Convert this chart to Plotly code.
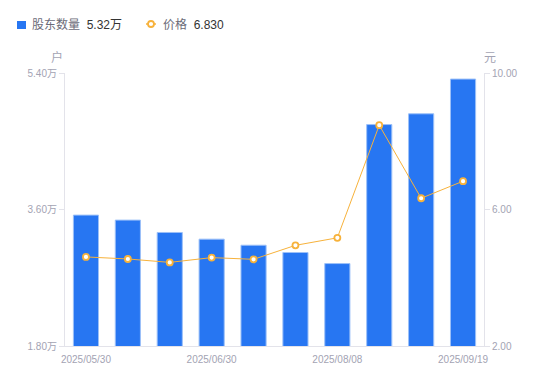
import plotly.graph_objects as go

dates = ["2025/05/30", "2025/06/10", "2025/06/20", "2025/06/30", "2025/07/10",
         "2025/07/20", "2025/08/08", "2025/08/20", "2025/08/31", "2025/09/19"]
holders = [3.526, 3.46, 3.297, 3.209, 3.129, 3.033, 2.887, 4.72, 4.862, 5.32]
price = [4.61, 4.55, 4.45, 4.59, 4.54, 4.95, 5.17, 8.47, 6.33, 6.83]
xtick_idx = [0, 3, 6, 9]
left_ticks = [1.8, 3.6, 5.4]
right_ticks = [2, 6, 10]
legend_names = ["股东数量", "价格"]
legend_values = ["5.32万", "6.830"]

BLUE = "#2776f2"
ORANGE = "#f7b23b"
GRAY = "#a3a3b3"
AXIS = "#e3e3ea"
FONT = "Liberation Sans, Arial, Noto Sans CJK SC, sans-serif"

# page has an 8px body margin; figure sized so the chart fills 550x381
W, H = 542, 373
ML, MR, MT, MB = 57, 66, 65, 35
PW, PH = W - ML - MR, H - MT - MB
OFF = 8


def px(xp):
    return (xp - OFF - ML) / PW


def py(yp):
    return (H - MB + OFF - yp) / PH


fig = go.Figure()
fig.add_trace(go.Bar(
    x=dates, y=holders, yaxis="y", name=legend_names[0],
    marker=dict(color=BLUE, line=dict(color="#9cc0f8", width=1)),
))
fig.add_trace(go.Scatter(
    x=dates, y=price, yaxis="y2", mode="lines+markers", name=legend_names[1],
    line=dict(color=ORANGE, width=1),
    marker=dict(size=6, color="white", line=dict(color=ORANGE, width=1.8)),
))

# custom legend (name + latest value)
shapes = [
    dict(type="rect", xref="paper", yref="paper", x0=px(17), x1=px(26),
         y0=py(29), y1=py(21), fillcolor=BLUE, line=dict(width=0)),
    dict(type="line", xref="paper", yref="paper", x0=px(146), x1=px(156),
         y0=py(24), y1=py(24), line=dict(color=ORANGE, width=1.5)),
    dict(type="circle", xref="paper", yref="paper", x0=px(148), x1=px(154),
         y0=py(27), y1=py(21), fillcolor="white",
         line=dict(color=ORANGE, width=1.8)),
]
annotations = []
for name, val, xpos in zip(legend_names, legend_values, [31, 162]):
    annotations.append(dict(
        text=f"<span style='color:#6b6b78'>{name}</span>  <span style='color:#333'>{val}</span>",
        xref="paper", yref="paper", x=px(xpos), y=py(25), xanchor="left",
        yanchor="middle", showarrow=False, borderpad=0,
        font=dict(size=12, color="#333")))
annotations += [
    dict(text="户", xref="paper", yref="paper", x=0, y=1, xanchor="right",
         yanchor="bottom", xshift=0, yshift=6, showarrow=False,
         font=dict(size=12, color=GRAY)),
    dict(text="元", xref="paper", yref="paper", x=1, y=1, xanchor="left",
         yanchor="bottom", xshift=-2, yshift=6, showarrow=False,
         font=dict(size=12, color=GRAY)),
]

fig.update_layout(
    width=W, height=H,
    margin=dict(l=ML, r=MR, t=MT, b=MB, autoexpand=False),
    paper_bgcolor="white", plot_bgcolor="white",
    font=dict(family=FONT, size=10, color=GRAY),
    bargap=0.4,
    showlegend=False,
    shapes=shapes,
    annotations=annotations,
    xaxis=dict(
        type="category", tickvals=[dates[i] for i in xtick_idx],
        ticktext=[dates[i] for i in xtick_idx], automargin=False,
        range=[-0.5, len(dates) - 0.5],
        showline=True, linecolor=AXIS, linewidth=1, ticks="outside",
        ticklen=4, tickcolor="rgba(0,0,0,0)",
        showgrid=False, zeroline=False, tickfont=dict(size=10, color=GRAY),
    ),
    yaxis=dict(
        range=[left_ticks[0], left_ticks[-1]], tickvals=left_ticks,
        ticktext=[f"{v:.2f}万" for v in left_ticks], automargin=False,
        showline=True, linecolor=AXIS, linewidth=1, ticks="outside", ticklen=5,
        tickcolor=AXIS, showgrid=False, zeroline=False,
        tickfont=dict(size=10, color=GRAY),
    ),
    yaxis2=dict(
        range=[right_ticks[0], right_ticks[-1]], tickvals=right_ticks,
        ticktext=[f"{v:.2f}" for v in right_ticks], automargin=False,
        overlaying="y", side="right",
        showline=True, linecolor=AXIS, linewidth=1, ticks="outside", ticklen=5,
        tickcolor=AXIS, showgrid=False, zeroline=False,
        tickfont=dict(size=10, color=GRAY),
    ),
)

fig.write_html("out.html")
